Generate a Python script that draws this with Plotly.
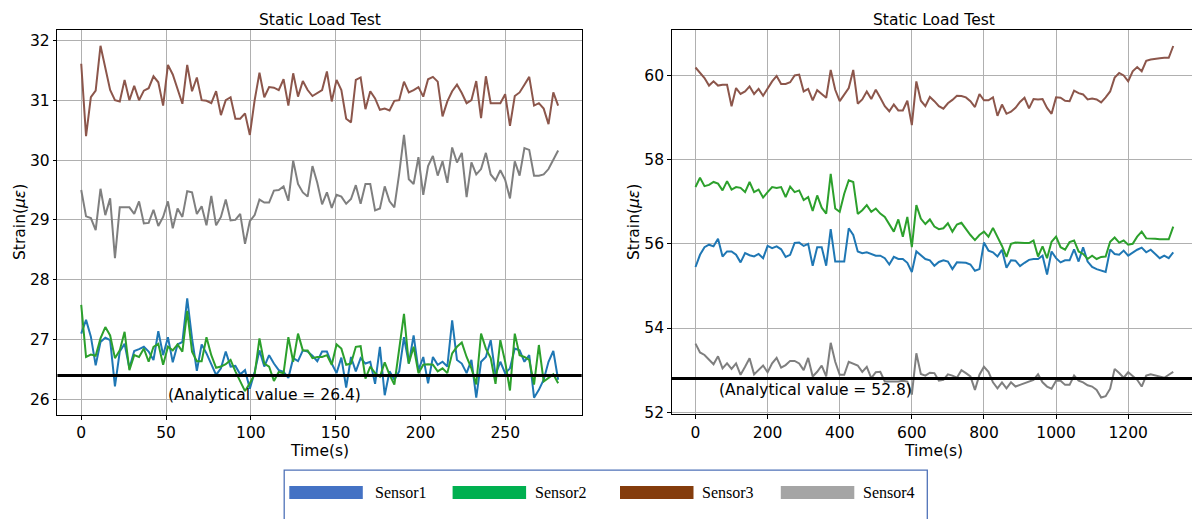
import numpy as np
import plotly.graph_objects as go

W, H = 1192, 519

# ---------------- data: left test (0-281 s) ----------------
t_left = np.arange(100) * 2.84
s1_left = [27.10, 27.33, 27.05, 26.57, 26.96, 27.03, 26.99, 26.22, 26.80, 26.93,
           26.52, 26.81, 26.84, 26.88, 26.80, 26.66, 27.14, 26.74, 27.04, 26.62,
           26.92, 26.96, 27.69, 27.02, 26.48, 26.92, 26.77, 26.58, 26.41, 26.52,
           26.80, 26.55, 26.56, 26.42, 26.49, 26.18, 26.46, 26.82, 26.55, 26.74,
           26.60, 26.49, 26.46, 26.36, 26.69, 26.64, 26.82, 26.80, 26.73, 26.64,
           26.80, 26.80, 26.60, 26.44, 26.70, 26.20, 26.71, 26.47, 26.69, 26.60,
           26.63, 26.26, 26.88, 26.07, 26.47, 26.33, 26.47, 27.04, 26.60, 27.07,
           26.49, 26.71, 26.27, 26.71, 26.58, 26.63, 26.55, 27.32, 26.66, 26.60,
           26.44, 26.66, 26.03, 26.63, 26.71, 26.99, 26.41, 26.63, 26.44, 26.52,
           26.85, 26.82, 26.63, 26.74, 26.03, 26.16, 26.33, 26.63, 26.81, 26.33]
s2_left = [27.58, 26.71, 26.75, 26.73, 27.02, 27.21, 27.07, 26.69, 26.82, 27.13,
           26.49, 26.74, 26.71, 26.85, 26.63, 26.88, 26.93, 26.58, 26.88, 26.82,
           26.92, 26.80, 27.48, 26.80, 26.64, 26.64, 27.04, 26.74, 26.53, 26.55,
           26.59, 26.66, 26.47, 26.30, 26.14, 26.27, 26.42, 27.02, 26.60, 26.55,
           26.31, 26.46, 26.44, 27.04, 26.63, 27.10, 26.82, 26.82, 26.69, 26.71,
           26.71, 26.74, 26.58, 26.92, 26.85, 26.58, 26.60, 26.88, 26.89, 26.35,
           26.55, 26.44, 26.38, 26.62, 26.41, 26.25, 26.80, 27.43, 26.60, 26.88,
           26.44, 26.58, 26.59, 26.58, 26.47, 26.52, 26.44, 26.77, 26.88, 26.95,
           26.71, 26.52, 26.25, 27.10, 26.85, 26.69, 26.26, 26.99, 26.63, 26.15,
           27.10, 26.74, 26.71, 26.66, 26.25, 26.91, 26.30, 26.36, 26.42, 26.27]
s3_left = [31.61, 30.40, 31.05, 31.16, 31.91, 31.56, 31.17, 31.00, 30.98, 31.34,
           31.00, 31.24, 31.00, 31.16, 31.20, 31.40, 31.30, 30.91, 31.59, 31.43,
           31.17, 30.94, 31.59, 31.15, 31.38, 31.00, 30.99, 30.95, 31.15, 30.75,
           31.00, 31.05, 30.69, 30.69, 30.78, 30.42, 31.00, 31.46, 31.05, 31.22,
           31.21, 31.17, 31.35, 30.91, 31.45, 31.06, 31.32, 31.17, 31.07, 31.12,
           31.17, 31.48, 30.98, 31.34, 31.17, 30.69, 30.63, 31.34, 31.38, 30.85,
           31.15, 31.03, 30.84, 30.86, 30.83, 30.99, 31.00, 31.31, 31.13, 31.17,
           31.22, 31.06, 31.35, 31.39, 31.31, 30.73, 30.98, 31.15, 31.26, 31.12,
           30.95, 31.00, 31.32, 30.70, 31.40, 30.95, 30.95, 30.95, 31.10, 30.57,
           31.07, 31.13, 31.26, 31.39, 30.91, 30.95, 30.86, 30.60, 31.13, 30.91]
s4_left = [29.50, 29.06, 29.03, 28.83, 29.52, 29.08, 29.36, 28.36, 29.21, 29.21,
           29.21, 29.10, 29.31, 28.94, 28.95, 29.17, 28.90, 29.05, 29.31, 28.86,
           29.19, 29.05, 29.48, 29.46, 29.10, 29.23, 28.91, 29.40, 28.91, 29.05,
           29.34, 28.99, 29.00, 29.10, 28.60, 28.98, 29.08, 29.34, 29.29, 29.29,
           29.49, 29.50, 29.56, 29.32, 29.99, 29.60, 29.46, 29.39, 29.90, 29.62,
           29.26, 29.46, 29.20, 29.42, 29.39, 29.27, 29.35, 29.58, 29.27, 29.60,
           29.60, 29.16, 29.19, 29.56, 29.31, 29.21, 29.77, 30.42, 29.68, 29.60,
           30.05, 29.42, 29.90, 30.07, 29.74, 29.98, 29.62, 30.21, 29.96, 30.12,
           29.38, 29.96, 29.76, 29.85, 30.12, 29.76, 29.66, 29.83, 29.67, 29.36,
           29.98, 29.74, 30.20, 30.17, 29.74, 29.74, 29.76, 29.85, 30.00, 30.16]
analytic_left = 26.4

# ---------------- data: right test (0-1325 s) ----------------
t_right = np.arange(107) * 12.5
s1_right = [55.45, 55.74, 55.92, 55.98, 55.94, 56.12, 55.70, 55.82, 55.82, 55.74,
            55.56, 55.78, 55.73, 55.70, 55.76, 55.66, 55.95, 55.90, 55.94, 55.87,
            55.69, 55.74, 56.02, 56.03, 55.95, 56.00, 55.48, 55.92, 55.92, 55.48,
            56.35, 55.58, 55.58, 55.58, 56.37, 56.21, 55.82, 55.78, 55.80, 55.76,
            55.72, 55.72, 55.66, 55.51, 55.69, 55.64, 55.64, 55.55, 55.33, 55.82,
            55.74, 55.64, 55.61, 55.48, 55.57,
            55.61, 55.58, 55.40, 55.56, 55.56, 55.55, 55.51, 55.36, 55.40, 56.03,
            55.84, 55.80, 55.70, 55.86, 55.43, 55.61, 55.60, 55.47, 55.55, 55.62,
            55.64, 55.64, 55.72, 55.27, 55.82, 55.66, 55.56, 55.61, 55.61, 55.87,
            55.58, 55.92, 55.58, 55.45, 55.40, 55.36, 55.33, 55.87, 55.76, 55.74,
            55.84, 55.72, 55.80, 55.86, 55.91, 55.80, 55.86, 55.76, 55.66, 55.72,
            55.66, 55.80]
s2_right = [57.35, 57.57, 57.37, 57.40, 57.47, 57.43, 57.27, 57.49, 57.29, 57.35,
            57.33, 57.23, 57.47, 57.23, 57.29, 57.10, 57.23, 57.35, 57.33, 57.35,
            57.11, 57.36, 57.23, 57.27, 57.04, 57.11, 56.78, 57.15, 56.86, 56.72,
            57.66, 56.84, 56.76, 57.19, 57.51, 57.47, 56.71, 56.80, 56.92, 56.76,
            56.84, 56.72, 56.64, 56.45, 56.29, 56.58, 56.17, 56.64, 55.92, 56.92,
            56.60, 56.47, 56.58, 56.41, 56.35,
            56.37, 56.49, 56.29, 56.46, 56.50, 56.35, 56.21, 56.09, 56.21, 56.29,
            56.17, 56.38, 56.17, 55.95, 55.69, 56.00, 56.03, 56.02, 56.02, 56.02,
            56.08, 55.70, 55.94, 55.66, 56.05, 56.17, 55.92, 55.86, 56.04, 56.08,
            55.82, 55.76, 55.64, 55.72, 55.64, 55.69, 55.70, 56.05, 56.15, 56.03,
            56.08, 55.98, 56.00, 56.17, 56.29, 56.13, 56.13, 56.12, 56.11, 56.11,
            56.11, 56.41]
s3_right = [60.19, 60.07, 59.94, 59.76, 59.86, 59.76, 59.78, 59.78, 59.27, 59.70,
            59.56, 59.62, 59.74, 59.56, 59.68, 59.52, 59.70, 59.86, 59.99, 59.80,
            59.80, 59.84, 60.00, 60.02, 59.62, 59.68, 59.41, 59.65, 59.56, 59.47,
            60.13, 59.66, 59.39, 59.56, 59.70, 60.13, 59.33, 59.43, 59.62, 59.44,
            59.66, 59.47, 59.27, 59.15, 59.31, 59.17, 59.17, 59.40, 58.82, 59.86,
            59.40, 59.27, 59.49, 59.39, 59.27,
            59.21, 59.34, 59.42, 59.52, 59.51, 59.48, 59.39, 59.25, 59.56, 59.41,
            59.41, 59.48, 59.04, 59.31, 59.09, 59.14, 59.23, 59.37, 59.47, 59.22,
            59.44, 59.43, 59.44, 59.23, 59.09, 59.48, 59.47, 59.40, 59.39, 59.64,
            59.58, 59.55, 59.43, 59.45, 59.43, 59.36, 59.48, 59.62, 59.95, 60.06,
            60.00, 59.86, 60.10, 60.20, 60.10, 60.35, 60.38, 60.40, 60.41, 60.42,
            60.42, 60.70]
s4_right = [53.63, 53.42, 53.36, 53.26, 53.14, 53.33, 53.04, 53.16, 53.03, 53.16,
            52.89, 53.08, 53.28, 52.90, 53.00, 53.11, 52.95, 53.16, 53.29, 53.06,
            53.12, 53.22, 53.22, 53.16, 53.00, 53.29, 52.85, 52.96, 53.11, 52.85,
            53.65, 53.20, 52.89, 52.89, 53.20, 53.16, 53.11, 52.96, 53.08, 52.81,
            52.95, 52.96, 52.73, 52.73, 52.73, 52.73, 52.75, 52.73, 52.42, 53.40,
            52.91, 52.87, 52.94, 52.93, 52.75, 52.77, 52.90, 52.87, 52.82, 53.00,
            52.93, 52.85, 52.53, 52.89, 53.08, 52.96, 52.71, 52.57, 52.71, 52.57,
            52.71, 52.61, 52.65, 52.69, 52.73, 52.77, 52.90, 52.71, 52.61, 52.56,
            52.75, 52.75, 52.65, 52.65, 52.87, 52.75, 52.71, 52.64, 52.61, 52.53,
            52.35, 52.38, 52.56, 53.03, 52.93, 52.82, 52.95, 52.87, 52.77, 52.61,
            52.87, 52.90, 52.87, 52.85, 52.82, 52.89, 52.96]
analytic_right = 52.8

sensor_names = ["Sensor1", "Sensor2", "Sensor3", "Sensor4"]
line_colors = ["#1f77b4", "#2ca02c", "#8c564b", "#7f7f7f"]
legend_colors = ["#4472C4", "#00B050", "#843C0C", "#A5A5A5"]
xticks_left = [0, 50, 100, 150, 200, 250]
xticks_right = [0, 200, 400, 600, 800, 1000, 1200]
yticks_left = [26, 27, 28, 29, 30, 31, 32]
yticks_right = [52, 54, 56, 58, 60]

FONT = "DejaVu Sans"
FS = 15.5

fig = go.Figure()
for name, col, ys in zip(sensor_names, line_colors, [s1_left, s2_left, s3_left, s4_left]):
    fig.add_trace(go.Scatter(x=t_left, y=ys, mode="lines", name=name,
                             line=dict(color=col, width=2), xaxis="x", yaxis="y",
                             showlegend=False))
for name, col, ys in zip(sensor_names, line_colors, [s1_right, s2_right, s3_right, s4_right]):
    fig.add_trace(go.Scatter(x=t_right, y=ys, mode="lines", name=name,
                             line=dict(color=col, width=2), xaxis="x2", yaxis="y2",
                             showlegend=False))

# analytical value lines
fig.add_shape(type="line", xref="x domain", yref="y", x0=0, x1=1,
              y0=analytic_left, y1=analytic_left, line=dict(color="black", width=3))
fig.add_shape(type="line", xref="x2 domain", yref="y2", x0=0, x1=1,
              y0=analytic_right, y1=analytic_right, line=dict(color="black", width=3))

def px_x(p):
    return p / W

def px_y(p):
    return 1 - p / H

L0, L1 = 57.4, 581.7
R0, R1 = 671.7, 1192
T0, B0 = 30, 420.7

axis_common = dict(showgrid=True, gridcolor="#b0b0b0", gridwidth=1, zeroline=False,
                   showline=True, linecolor="black", linewidth=1.2,
                   ticks="outside", ticklen=3.5, tickwidth=1, tickcolor="black",
                   tickfont=dict(family=FONT, size=FS, color="black"))

fig.update_layout(
    width=W, height=H,
    margin=dict(l=0, r=0, t=0, b=0),
    paper_bgcolor="white", plot_bgcolor="white",
    xaxis=dict(domain=[px_x(L0), px_x(L1)], range=[-14.05, 295.05], tickvals=xticks_left,
               anchor="y", mirror=True, **axis_common),
    yaxis=dict(domain=[px_y(B0), px_y(T0)], range=[25.74, 32.18], tickvals=yticks_left,
               anchor="x", mirror=True, **axis_common),
    xaxis2=dict(domain=[px_x(R0), px_x(R1)], range=[-66, 1377], tickvals=xticks_right,
                anchor="y2", mirror=True, **axis_common),
    yaxis2=dict(domain=[px_y(B0 - 0.7), px_y(T0)], range=[51.95, 61.09], tickvals=yticks_right,
                anchor="x2", mirror=False, **axis_common),
)

txt = dict(family=FONT, size=FS, color="black")
annos = [
    dict(text="Static Load Test", x=px_x((L0 + L1) / 2), y=px_y(20), xref="paper", yref="paper",
         showarrow=False, font=txt, xanchor="center", yanchor="middle"),
    dict(text="Static Load Test", x=px_x(934), y=px_y(20), xref="paper", yref="paper",
         showarrow=False, font=txt, xanchor="center", yanchor="middle"),
    dict(text="Time(s)", x=px_x((L0 + L1) / 2), y=px_y(446.5), xref="paper", yref="paper",
         showarrow=False, font=txt, xanchor="center", yanchor="top"),
    dict(text="Time(s)", x=px_x(934), y=px_y(446.5), xref="paper", yref="paper",
         showarrow=False, font=txt, xanchor="center", yanchor="top"),
    dict(text="Strain(<i>με</i>)", x=px_x(20), y=px_y(225), xref="paper", yref="paper",
         showarrow=False, font=txt, textangle=-90, xanchor="center", yanchor="middle"),
    dict(text="Strain(<i>με</i>)", x=px_x(634), y=px_y(225), xref="paper", yref="paper",
         showarrow=False, font=txt, textangle=-90, xanchor="center", yanchor="middle"),
    dict(text="(Analytical value = %.1f)" % analytic_left, x=50, y=26.08, xref="x", yref="y",
         showarrow=False, font=txt, xanchor="left", yanchor="middle"),
    dict(text="(Analytical value = %.1f)" % analytic_right, x=60, y=52.53, xref="x2", yref="y2",
         showarrow=False, font=txt, xanchor="left", yanchor="middle"),
]

# legend box drawn below the panels
fig.add_shape(type="rect", xref="paper", yref="paper",
              x0=px_x(284.2), x1=px_x(927.3), y0=px_y(530), y1=px_y(476.5),
              line=dict(color="#4F72B8", width=1.3), fillcolor="white")
sw_x0 = [289.3, 452.6, 620.0, 780.8]
lab_x0 = [373.4, 532.5, 699.6, 860.8]
for name, col, sx, lx in zip(sensor_names, legend_colors, sw_x0, lab_x0):
    fig.add_shape(type="rect", xref="paper", yref="paper",
                  x0=px_x(sx), x1=px_x(sx + 73.5), y0=px_y(505.7), y1=px_y(492.7),
                  line=dict(width=0), fillcolor=col)
    annos.append(dict(text=name, x=px_x(lx), y=px_y(499.5), xref="paper", yref="paper",
                      showarrow=False, xanchor="left", yanchor="middle",
                      font=dict(family="Liberation Serif", size=16, color="black")))

fig.update_layout(annotations=annos)
fig.write_html("out.html")
